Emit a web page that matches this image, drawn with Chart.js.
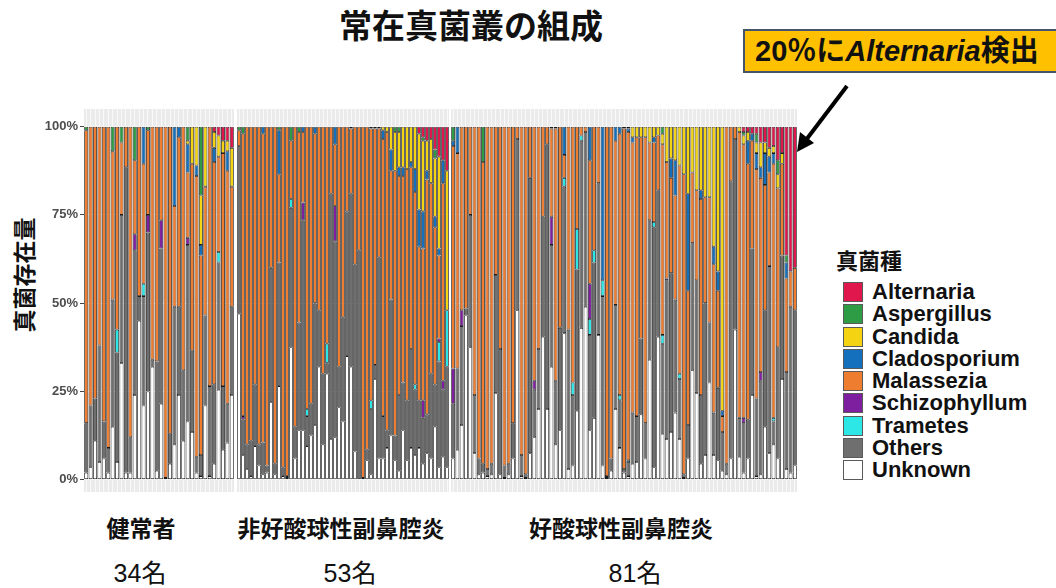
<!DOCTYPE html>
<html lang="ja">
<head>
<meta charset="utf-8">
<script src="https://cdn.jsdelivr.net/npm/chart.js@4.4.1/dist/chart.umd.min.js"></script>
<style>
  html, body { margin: 0; padding: 0; background: #fff; }
  body { width: 1056px; height: 588px; position: relative; overflow: hidden;
         font-family: "Liberation Sans", "Noto Sans CJK JP", sans-serif; }
  .abs { position: absolute; }
  #title { left: 0; width: 942px; top: 0px; text-align: center; font: bold 33px "Noto Sans CJK JP"; color: #111; }
  #note { left: 743px; top: 29px; width: 330px; height: 40px; background: #ffc000; border: 2px solid #44546a;
          font: bold 29px "Liberation Sans", "Noto Sans CJK JP"; line-height: 40px; padding-left: 10px; color: #111; white-space: nowrap; }
  #note i { font-style: italic; }
  #ytitle { left: 23px; top: 275px; transform: translate(-50%, -50%) rotate(-90deg); font: bold 23px "Noto Sans CJK JP"; white-space: nowrap; color: #111; }
  canvas { position: absolute; }
  #legend { left: 836px; top: 243px; }
  #legend .ttl { font: bold 22px "Noto Sans CJK JP"; margin-bottom: 6px; color: #111; }
  #legend .row { height: 22.25px; display: flex; align-items: center; margin-left: 7px; }
  #legend .sw { width: 18px; height: 18px; border: 1px solid #5a5a5a; margin-right: 9px; }
  #legend .lb { font: bold 22px "Liberation Sans"; color: #111; }
  .grp { top: 510px; font: bold 23px "Noto Sans CJK JP"; transform: translateX(-50%); white-space: nowrap; color: #111; }
  .cnt { top: 553px; font: 25px "Liberation Sans", "Noto Sans CJK JP"; transform: translateX(-50%); white-space: nowrap; color: #111; }
</style>
</head>
<body>
<div id="title" class="abs">常在真菌叢の組成</div>
<div id="note" class="abs">20％に<i>Alternaria</i>検出</div>
<svg class="abs" style="left:0;top:0" width="1056" height="588">
  <line x1="847" y1="86" x2="806" y2="140" stroke="#000" stroke-width="4"/>
  <polygon points="797,152 800,132 814,143" fill="#000"/>
</svg>
<div id="ytitle" class="abs">真菌存在量</div>
<canvas id="panel1"></canvas>
<canvas id="panel2"></canvas>
<canvas id="panel3"></canvas>
<div id="legend" class="abs"></div>
<div id="groups"></div>

<script>
// groups (facets) and number of samples in each
const groupNames = ['健常者', '非好酸球性副鼻腔炎', '好酸球性副鼻腔炎'];
const groupCounts = ['34名', '53名', '81名'];
const groupSizes = [34, 53, 81];

// stack order bottom -> top
const species = ['Unknown', 'Others', 'Trametes', 'Schizophyllum', 'Malassezia', 'Cladosporium', 'Candida', 'Aspergillus', 'Alternaria'];
const speciesColors = ['#ffffff', '#6f6f6f', '#2de6e6', '#7e1fa0', '#ef7d30', '#1470bd', '#f4d312', '#2e9c45', '#e0174c'];
const yTicks = [0, 25, 50, 75, 100];

// relative abundance (%) per sample, one line per group
const unknown = [
  2,3.5,11,5,6,2,15,5,33,2, 2,24,45,21,25,32,2.5,21.5,0,4.5, 10,24,11,16.5,13.5,2,1,21,1,4.5, 25.5,8.5,10.5,24,
  47,7,3,1,9.5,4,1.5,2,22,1.5, 26.5,1,0.5,37.5,6,14,14,9.5,12.5,15.5, 32,10,30,11.5,12,20.5,16.5,35,32,8, 0,0,5.5,1.5,28.5,6,6,9,12.5,5.5, 2.5,14,5.5,9,7,9,4.5,7.5,6,15, 3.5,6.5,3.5,
  6,8.5,15.5,46.5,37.5,7.5,1.5,2,1,1.5, 24.5,1.5,0.5,1.5,6,48,1,0.5,7.5,12, 20,40.5,20,32,10,14,41.5,3,4,19.5, 43,49,14,17.5,41,4,0.5,2.5,20,9, 2,1,4.5,5,18.5,6,34,3.5,40.5,13, 11.5,13.5,19,11.5,0.5,6,31,24.5,4.5,7, 27.5,7,5.5,2.5,1.5,6,42.5,6.5,2,6, 24,1,1.5,15,7.5,10,6,28.5,3,2, 4
];
const others = [
  14,17.5,12,33,10.5,7,36,31,42,86.5, 10,41,7,31,45,2,31,44,0.5,8.5, 39,25,20,50,23,4.5,6,25.5,25.5,22.5, 36,18,11,25,
  47.5,10,7,10,17.5,6,9,2,38,3, 35,2.5,0.5,39.5,9,30.5,59.5,8.5,9,34.5, 16,20,3,69.5,55.5,11.5,29.5,41,49,53, 65,0.5,3,18.5,4,57,12,5,38.5,7, 21.5,13.5,17,28,18.5,13.5,13,11,24,12, 30,19,28.5,
  15.5,23,28,2,37.5,16.5,4.5,2.5,2,3, 33.5,35.5,3.5,3,10,48.5,6,1,78,13.5, 17,34,75,34.5,18,29,41.5,39.5,20,40, 53,49.5,27,44,43,48,0.5,3.5,29.5,13.5, 1,4,14.5,13,21.5,10,39.5,68,41.5,25.5, 45,45,32,17,1,9.5,36,32,19.5,43, 17,12,20.5,11,3,78.5,54,11,14,11, 41.5,22,26.5,33,53,6.5,31.5,35,27.5,47, 44
];
const trametes = [
  0,0,0,0,0,0,0,6.5,0,0, 0,0,0,3.5,0,0,0,0,0,0, 0,0,0,0,0,0,0,0,0,0, 3,0,0,0,
  0,0,0,0,0,0,0,0,0,0, 0,0,0,2.5,0,0,0,2,0,0, 0,0,5.5,0,0,0,0,0,0,0, 0,0,0,2.5,0,0,0,0,0,0, 0,0,0,0,1.5,0,0,0,0,0, 5.5,0,16,
  0,0,0,0,0,0,0,0,0,0, 0,0,0,0,0,0,0,0,0,0, 0,0,0,0,0,0,2.5,0,3.5,11.5, 1.5,0,4.5,3.5,0,4.5,0,0,0,1.5, 0,0.5,0,0,0,0,0,1.5,0,2.5, 0,0,0,1.5,0,0,0,0,0,0, 0,0,0,0,0,0,0,0,0,0, 0,0,0,0,0,1,0,0,0,0, 0
];
const schizophyllum = [
  0,0,0,0,0,0,0,0,0,0, 0,4.5,0,0,5,0,0,8,0,0, 0,0,0,2,0,0,0,0,0,0, 0,0,0,0,
  0,1,0,0,0,0,0,0,0,0, 0,0,0,0,0,0,5,0,0,0, 0,0,0,0,10,0,0,0,0,0, 0,0,0,0,0,0,0,0,0,0, 0,0,0,0,0,0,5,0,0,0, 1,2.5,0,
  10,0,4.5,0,0,0,0,0,0,0, 0,0,0,0,0,0,0,0,0,2.5, 0,0,0,8,0,0,0,0,0,0, 0,0,10,0,0,0,0,0,0,0, 0,0,0,0,0,0,0,0,0,0, 0.5,0,0,0,0,0,0,0,0,0, 0,0,0,0,0,0,0,0,1.5,0, 0,0,2.5,0,0,0,0,0,0,0, 0
];
const malassezia = [
  83,79,77,62,83.5,91,42,57.5,20.5,11.5, 88,21,48,34,24,66,66.5,26.5,99.5,87, 28.5,48,69,18.5,53,79.5,56.5,36.5,73.5,63, 27,66,66,34,
  4.5,80,90,89,73,90,87.5,96,40,95.5, 25,96.5,99,16.5,85,54,20,80,78.5,48, 52,70,61.5,19,17.5,68,54,24,18.5,39, 35,99.5,91.5,77,67,36.5,78.5,84.5,36.5,75, 62,58.5,65.5,51.5,54.5,43.5,43,66.5,54,44.5, 23.5,56,0,
  63,61,52,51.5,25,76,94,85.5,97,95.5, 42,63,96,95.5,84,3.5,93,98.5,14.5,72, 63,25.5,5,25,71.5,57,6.5,57.5,72.5,29, 2.5,1.5,35,35,16,0,99,94,46.5,74, 96.5,93,76.5,79,57,81,22,22.5,15.5,54, 33,27,29.5,59,85,38,20,25.5,55.5,30, 35.5,42,27.5,4.5,95.5,15.5,3.5,81,77.5,72.5, 30.5,65,55,35.5,26.5,72,45,26,26.5,10, 12
];
const cladosporium = [
  0,0,0,0,0,0,0,0,0,0, 0,0,0,10.5,0,0,0,0,0,0, 22.5,3,0,8,0,3,3,0,0,4, 0,0,5.5,0,
  0,0,0,0,0,0,2,0,0,0, 12.5,0,0,0,0,0,1.5,0,0,2, 0,0,0,0,5,0,0,0,0,0, 0,0,0,0,0,0,2.5,0,6,0, 2.5,2.5,0,1.5,6.5,10.5,10.5,2.5,0,3, 2,6.5,0,
  1.5,7.5,0,0,0,0,0,0,0,0, 0,0,0,0,0,0,0,0,0,0, 0,0,0,0,0,0,8,0,0,0, 0,0,9.5,0,0,43.5,0,0,4,2, 0,1,1.5,0,0,0,0,1.5,0,0, 0,5.5,10,0,0,27.5,0,0,2.5,0, 0,5,5.5,1.5,0,0,0,0,0,6.5, 2,4.5,3,9,4.5,3,0,0,4.5,0, 0
];
const candida = [
  0,0,0,0,0,0,0,0,0,0, 0,0,0,0,0,0,0,0,0,0, 0,0,0,1,10.5,11,14,17,0,4.5, 6,3.5,3,11,
  0,0,0,0,0,0,0,0,0,0, 0,0,0,0,0,0,0,0,0,0, 0,0,0,0,0,0,0,0,0,0, 0,0,0,0.5,0.5,0.5,1,1.5,6.5,11, 10,11.5,12,10,12,21.5,20,8.5,12.5,16.5, 26,0,39.5,
  0,0,0,0,0,0,0,0,0,0, 0,0,0,0,0,0,0,0,0,0, 0,0,0,0,0,0,0,0,0,0, 0,0,0,0,0,0,0,0,0,0, 0.5,0.5,3,3,3,3,4.5,3,2.5,3, 10,9,9.5,11,13.5,19,13,18,18,20, 20,34,41,80.5,0,0,0,1.5,2.5,2.5, 0,3,7,3,2.5,2,4,3,0,0, 0
];
const aspergillus = [
  1,0,0,0,0,0,7,0,4.5,0, 0,9.5,0,0,1,0,0,0,0,0, 0,0,0,4,0,0,19.5,0,0,0, 0,0,0,0,
  1,2,0,0,0,0,0,0,0,0, 1,0,0,4,0,1.5,0,0,0,0, 0,0,0,0,0,0,0,0,0.5,0, 0,0,0,0,0,0,0,0,0,1.5, 1.5,0,0,0,0,0,1,0,0,2.5, 0,0,0,
  4,0,0,0,0,0,0,10,0,0, 0,0,0,0,0,0,0,0,0,0, 0,0,0,0.5,0.5,0,0,0,0,0, 0,0,0,0,0,0,0,0,0,0, 0,0,0,0,0,0,0,0,0,2, 0,0,0,0,0,0,0,0,0,0, 0,0,0,0,0,0,0,0,1,0, 0,2.5,0,0,0,0,4,0,2,0, 0
];
const alternaria = [
  0,0,0,0,0,0,0,0,0,0, 0,0,0,0,0,0,0,0,0,0, 0,0,0,0,0,0,0,0,0,1.5, 2.5,4,4,6,
  0,0,0,0,0,0,0,0,0,0, 0,0,0,0,0,0,0,0,0,0, 0,0,0,0,0,0,0,0,0,0, 0,0,0,0,0,0,0,0,0,0, 0,0,0,0,0,2,3,4,3.5,6.5, 8.5,9.5,12.5,
  0,0,0,0,0,0,0,0,0,0, 0,0,0,0,0,0,0,0,0,0, 0,0,0,0,0,0,0,0,0,0, 0,0,0,0,0,0,0,0,0,0, 0,0,0,0,0,0,0,0,0,0, 0,0,0,0,0,0,0,0,0,0, 0,0,0,0,0,0,0,0,1.5,1.5, 2,2,4.5,4.5,6,5.5,9.5,7.5,36.5,41, 40
];
const speciesData = [unknown, others, trametes, schizophyllum, malassezia, cladosporium, candida, aspergillus, alternaria];

// panel boxes on the page (grey background areas)
const panelBoxes = [
  { left: 84, width: 150 },
  { left: 237, width: 212 },
  { left: 451, width: 346 }
];
const yAxisWidth = 46;
const panelTop = 109, panelHeight = 383;

const panelBg = {
  id: 'panelBg',
  beforeDraw(chart) {
    const { ctx, chartArea } = chart;
    ctx.save();
    ctx.fillStyle = '#ebebeb';
    ctx.fillRect(chartArea.left, chartArea.top, chartArea.right - chartArea.left, chartArea.bottom - chartArea.top);
    ctx.restore();
  }
};

function makePanel(idx, start) {
  const n = groupSizes[idx];
  const showY = idx === 0;
  const canvas = document.getElementById('panel' + (idx + 1));
  const w = panelBoxes[idx].width + (showY ? yAxisWidth : 0);
  canvas.width = w;
  canvas.height = panelHeight;
  canvas.style.left = (panelBoxes[idx].left - (showY ? yAxisWidth : 0)) + 'px';
  canvas.style.top = panelTop + 'px';

  const labels = [];
  for (let i = 0; i < n; i++) labels.push(groupNames[idx] + ' ' + (i + 1));

  new Chart(canvas, {
    type: 'bar',
    data: {
      labels: labels,
      datasets: species.map((name, s) => ({
        label: name,
        // empty segments are left out so they don't leave a stray outline
        data: speciesData[s].slice(start, start + n).map(v => (v === 0 ? null : v)),
        backgroundColor: speciesColors[s],
        borderColor: '#1a1a1a',
        borderWidth: 0.8,
        borderSkipped: false,
        barPercentage: 0.9,
        categoryPercentage: 1
      }))
    },
    options: {
      responsive: false,
      animation: false,
      layout: { padding: 0 },
      plugins: { legend: { display: false }, tooltip: { enabled: false } },
      scales: {
        x: {
          stacked: true,
          grid: { offset: false, color: '#ffffff', lineWidth: 0.7, drawTicks: false },
          border: { display: false },
          ticks: { display: false }
        },
        y: {
          stacked: true,
          min: -3.5,
          max: 105,
          afterBuildTicks: (scale) => { scale.ticks = yTicks.map(v => ({ value: v })); },
          afterFit: (scale) => {
            scale.width = showY ? yAxisWidth : 0;
            scale.paddingTop = 0;
            scale.paddingBottom = 0;
          },
          border: { display: false },
          grid: { color: '#ffffff', lineWidth: 1, drawTicks: showY, tickLength: 4, tickColor: '#444' },
          ticks: {
            display: showY,
            padding: 2,
            color: '#4d4d4d',
            font: { family: 'Liberation Sans', weight: 'bold', size: 13 },
            callback: (v) => v + '%'
          }
        }
      }
    },
    plugins: [panelBg]
  });
}

let offset = 0;
groupSizes.forEach((n, i) => { makePanel(i, offset); offset += n; });

// legend (reverse of stack order, like the original)
const legend = document.getElementById('legend');
legend.innerHTML = '<div class="ttl">真菌種</div>';
for (let s = species.length - 1; s >= 0; s--) {
  legend.innerHTML += `<div class="row"><div class="sw" style="background:${speciesColors[s]}"></div><div class="lb">${species[s]}</div></div>`;
}

// group labels under the panels
const groupCenters = [141, 341, 621];
const countCenters = [140, 350, 635];
const groupsDiv = document.getElementById('groups');
groupNames.forEach((g, i) => {
  groupsDiv.innerHTML += `<div class="abs grp" style="left:${groupCenters[i]}px">${g}</div>`;
  groupsDiv.innerHTML += `<div class="abs cnt" style="left:${countCenters[i]}px">${groupCounts[i]}</div>`;
});
</script>
</body>
</html>
